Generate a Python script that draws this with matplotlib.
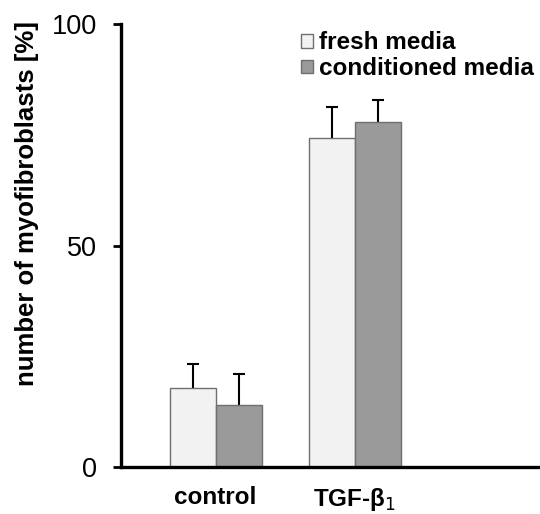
import numpy as np
import matplotlib
matplotlib.use("Agg")
import matplotlib.pyplot as plt

plt.rcParams['font.family'] = ['Liberation Sans', 'DejaVu Sans']

groups = ['control', 'TGF-β$_1$']
series = ['fresh media', 'conditioned media']
fresh = [17.8, 74.3]
fresh_err = [5.5, 7.0]
conditioned = [14.0, 77.9]
conditioned_err = [7.0, 5.0]
yticks = [0, 50, 100]

fig = plt.figure(figsize=(5.4, 5.14), dpi=100)
ax = fig.add_axes([0.224, 0.0914, 0.776, 0.8616])

x = np.arange(len(groups))
w = 0.33
colors = ['#f2f2f2', '#9a9a9a']
for i, (vals, errs) in enumerate([(fresh, fresh_err), (conditioned, conditioned_err)]):
    pos = x + (i - 0.5) * w
    vals = np.array(vals)
    errs = np.array(errs)
    ax.bar(pos, vals, w, color=colors[i], edgecolor='#6f6f6f', linewidth=1.0,
           label=series[i], zorder=2)
    # upper error only, single cap
    ax.errorbar(pos, vals, yerr=[np.zeros(len(errs)), errs], fmt='none',
                ecolor='black', elinewidth=1.5, capsize=0, zorder=1)
    ax.plot(pos, vals + errs, ls='none', marker='_', ms=9, mew=1.5, color='black', zorder=1)

ax.set_xlim(-0.68, 2.33)
ax.set_ylim(0, 100)
ax.set_yticks(yticks)
ax.set_yticklabels([str(t) for t in yticks], fontsize=19.5)
ax.set_xticks(x)
ax.set_xticklabels(groups, fontsize=17.5, fontweight='bold')
ax.tick_params(axis='x', length=0, pad=14)
ax.tick_params(axis='y', length=6, width=2, direction='out', pad=11)

for s in ['top', 'right']:
    ax.spines[s].set_visible(False)
for s in ['left', 'bottom']:
    ax.spines[s].set_linewidth(2.4)

ax.set_ylabel('number of myofibroblasts [%]', fontsize=18.5, fontweight='bold')
ax.yaxis.set_label_coords(-0.196, 0.596)

leg = ax.legend(loc='upper left', bbox_to_anchor=(0.43, 0.984), frameon=False,
                prop={'size': 17.5, 'weight': 'bold'}, handlelength=0.5, handleheight=0.5,
                handletextpad=0.25, labelspacing=0.12, borderaxespad=0, borderpad=0)

fig.savefig('out.png', dpi=100)
